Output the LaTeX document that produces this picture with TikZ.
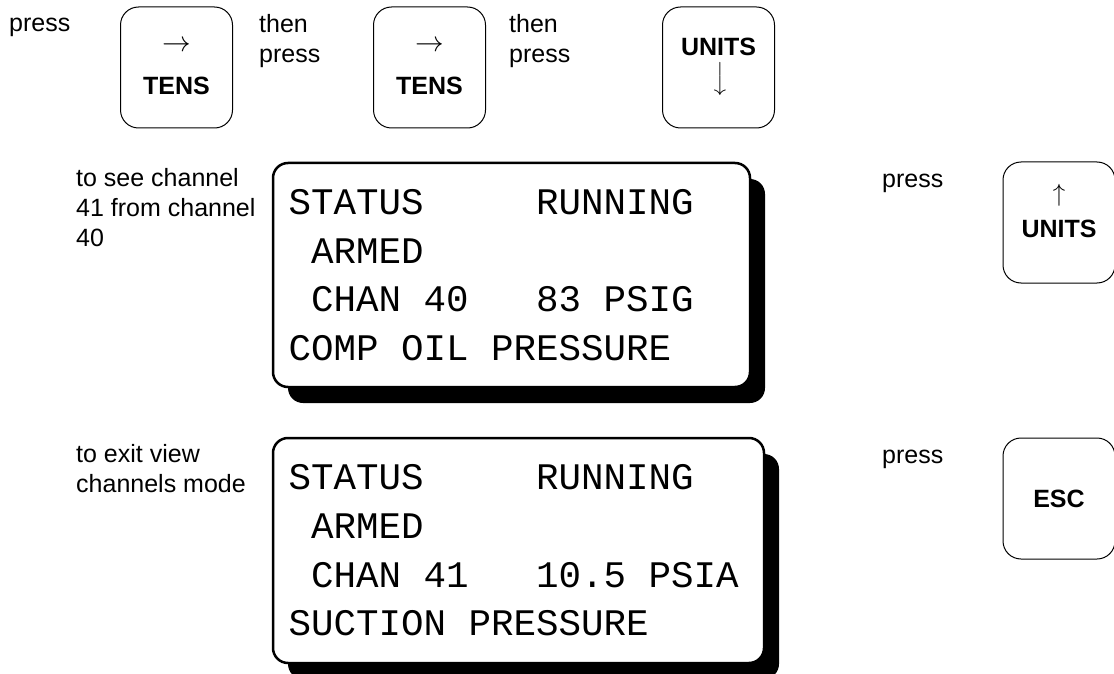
\documentclass[tikz,border=0pt]{standalone}
\usepackage{fontspec}
\usepackage{graphicx}
\setmainfont{Liberation Sans}
\newfontfamily\lcdfont{Liberation Mono}
\usetikzlibrary{positioning,shadows}

% key legend arrows
\newcommand{\keyright}{\scalebox{1.15}{$\rightarrow$}}
\newcommand{\keydown}{\rotatebox{-90}{\scalebox{.9}{$\longrightarrow$}}}
\newcommand{\keyup}{$\uparrow$}
% n blank character cells of the display
\newcommand{\lcdgap}[1]{\hspace*{#1\dimexpr.6em\relax}}

\begin{document}
\begin{tikzpicture}[
            x=1pt, y=-1pt,
            key/.style={rectangle, draw=black, line width=1pt, rounded corners=18pt, minimum width=112pt, minimum height=121pt, inner sep=0pt, align=center, font=\fontsize{25}{30}\selectfont\bfseries},
            lcd/.style={rectangle, draw=black, line width=2.5pt, fill=white, rounded corners=15pt, inner xsep=15.5pt, align=left, font=\lcdfont\fontsize{37.5}{48.7}\selectfont, drop shadow={shadow xshift=15pt, shadow yshift=-16pt, fill=black, opacity=1}},
            note/.style={anchor=north west, inner sep=0pt, align=left, font=\fontsize{25}{30}\selectfont}
        ]
        \useasboundingbox (0,0) rectangle (1114,674);

        %keys
        \node[key]      (tens1)     at (176.5,67.5)         {\keyright\\[13pt]TENS};
        \node[key]      (tens2)     [right=140pt of tens1]  {\keyright\\[13pt]TENS};
        \node[key]      (unitsdn)   [right=176pt of tens2]  {UNITS\\[-25pt]\keydown};
        \node[key]      (unitsup)   at (1059,222.5)         {\keyup\\[6pt]UNITS\rule[-24pt]{0pt}{24pt}};
        \node[key]      (esc)       [below=154pt of unitsup] {ESC};

        %displays
        \node[lcd, minimum width=477pt, minimum height=224pt, text width=446pt] (disp1) at (511.5,275)
            {STATUS\lcdgap{5}RUNNING\\ \lcdgap{1}ARMED\\ \lcdgap{1}CHAN\lcdgap{1}40\lcdgap{3}83\lcdgap{1}PSIG\\ COMP\lcdgap{1}OIL\lcdgap{1}PRESSURE};
        \node[lcd, minimum width=491pt, minimum height=225pt, text width=460pt] (disp2) at (518.5,550.5)
            {STATUS\lcdgap{5}RUNNING\\ \lcdgap{1}ARMED\\ \lcdgap{1}CHAN\lcdgap{1}41\lcdgap{3}10.5\lcdgap{1}PSIA\\ SUCTION\lcdgap{1}PRESSURE};

        %notes
        \node[note]     (press0)    at (9,18)       {press};
        \node[note]     (then1)     at (259,14)     {then\\press};
        \node[note]     (then2)     at (509,14)     {then\\press};
        \node[note]     (see)       at (76,168.5)   {to see channel\\41 from channel\\40};
        \node[note]     (exit)      at (76,444.5)   {to exit view\\channels mode};
        \node[note]     (press1)    at (882,174)    {press};
        \node[note]     (press2)    at (882,450)    {press};

        \end{tikzpicture}
\end{document}
